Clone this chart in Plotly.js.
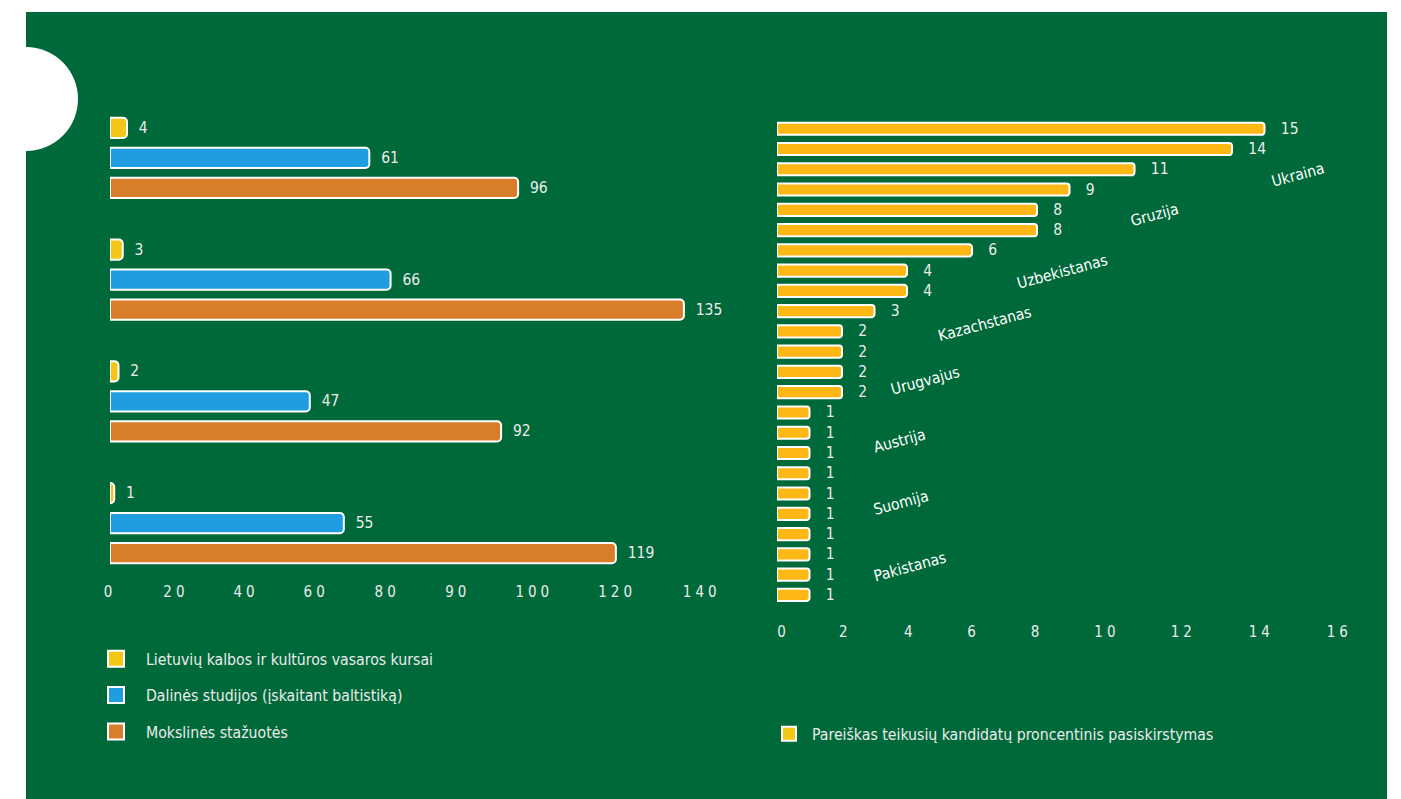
<!DOCTYPE html>
<html><head><meta charset="utf-8">
<script src="https://cdn.plot.ly/plotly-3.0.1.min.js"></script>
<style>
html,body{margin:0;padding:0;background:#fff;}
#chart{width:1401px;height:799px;}
.xtick text, .x2tick text {letter-spacing:4px;}
</style></head><body><div id="chart"></div>
<script>
// ---------- left chart data ----------
const groupIds = ['1', '2', '3', '4'];
const summerCourses = [4, 3, 2, 1];
const partialStudies = [61, 66, 47, 55];
const internships = [96, 135, 92, 119];
const leftSeriesNames = [
  'Lietuvių kalbos ir kultūros vasaros kursai',
  'Dalinės studijos (įskaitant baltistiką)',
  'Mokslinės stažuotės'
];
const leftTickText = ['0', '20', '40', '60', '80', '90', '100', '120', '140'];

// ---------- right chart data ----------
const rowIds = ['1','2','3','4','5','6','7','8','9','10','11','12','13','14','15','16','17','18','19','20','21','22','23','24'];
const shares = [15, 14, 11, 9, 8, 8, 6, 4, 4, 3, 2, 2, 2, 2, 1, 1, 1, 1, 1, 1, 1, 1, 1, 1];
const rightSeriesName = 'Pareiškas teikusių kandidatų proncentinis pasiskirstymas';
const countryNames = ['Ukraina', 'Gruzija', 'Uzbekistanas', 'Kazachstanas', 'Urugvajus', 'Austrija', 'Suomija', 'Pakistanas'];
const rightTickText = ['0', '2', '4', '6', '8', '10', '12', '14', '16'];

// ---------- layout / style config ----------
const W = 1401, H = 799;
const FONT = '"DejaVu Sans Condensed", "DejaVu Sans", sans-serif';
const TXT = '#ececec';
const GREEN = '#00693A';
const leftColors = ['#F3C716', '#1F9DE0', '#D87E2B'];
const rightColor = '#FDB816';
const leftTickPos = [0, 15.5, 32, 48.5, 65.2, 81.8, 99.8, 119.3, 139.2];
const rightTickPos = [0.2, 2.1, 4.1, 6.05, 8.0, 10.15, 12.5, 14.9, 17.3];
const countryLabelPos = [[16.03, 2.28], [11.63, 4.26], [8.77, 7.08], [6.4, 9.65], [4.55, 12.43], [3.78, 15.4], [3.82, 18.47], [4.09, 21.63]];

const px = v => v / W;
const py = v => 1 - v / H;

const leftValues = [summerCourses, partialStudies, internships];
const traces = [];
leftValues.forEach((vals, i) => {
  traces.push({
    type: 'bar', orientation: 'h', y: groupIds, x: vals, name: leftSeriesNames[i],
    xaxis: 'x', yaxis: 'y', showlegend: false,
    marker: {color: leftColors[i], line: {color: '#ffffff', width: 2}, cornerradius: 4},
    text: vals, texttemplate: '\u00a0\u00a0%{x}', textposition: 'outside', constraintext: 'none',
    cliponaxis: false, textfont: {family: FONT, size: 15.5, color: TXT}, hoverinfo: 'x+name'
  });
});
leftSeriesNames.forEach((n, i) => {
  traces.push({
    type: 'scatter', mode: 'markers', x: [null], y: [null], name: n, xaxis: 'x', yaxis: 'y',
    legend: 'legend', legendgroup: 'g' + i, showlegend: true,
    marker: {symbol: 'square', size: 16, color: leftColors[i], line: {color: '#ffffff', width: 2}}
  });
});
traces.push({
  type: 'bar', orientation: 'h', y: rowIds, x: shares, name: rightSeriesName,
  xaxis: 'x2', yaxis: 'y2', showlegend: false, width: 0.6, offsetgroup: 'r',
  marker: {color: rightColor, line: {color: '#ffffff', width: 2}, cornerradius: 3},
  text: shares, texttemplate: '\u00a0\u00a0\u00a0%{x}', textposition: 'outside', constraintext: 'none',
  cliponaxis: false, textfont: {family: FONT, size: 15.5, color: TXT}, hoverinfo: 'x'
});
traces.push({
  type: 'scatter', mode: 'markers', x: [null], y: [null], name: rightSeriesName, xaxis: 'x2', yaxis: 'y2',
  legend: 'legend2', showlegend: true,
  marker: {symbol: 'square', size: 14, color: '#F3C716', line: {color: '#ffffff', width: 2}}
});

const annotations = countryNames.map((c, i) => ({
  xref: 'x2', yref: 'y2', x: countryLabelPos[i][0], y: countryLabelPos[i][1], text: c,
  showarrow: false, textangle: -15, xanchor: 'center', yanchor: 'middle',
  font: {family: FONT, size: 15.5, color: '#ffffff'}
}));

const axisBase = {showgrid: false, zeroline: false, showline: false, ticks: '', fixedrange: true};

const layout = {
  width: W, height: H,
  margin: {l: 0, r: 0, t: 0, b: 0, pad: 0, autoexpand: false},
  paper_bgcolor: '#ffffff', plot_bgcolor: 'rgba(0,0,0,0)',
  font: {family: FONT, color: TXT, size: 15},
  barmode: 'group', bargap: 0.26, bargroupgap: 0.33,
  xaxis: Object.assign({}, axisBase, {
    domain: [px(110), px(740)], range: [0, 148.2], anchor: 'free', position: py(581),
    tickmode: 'array', tickvals: leftTickPos, ticktext: leftTickText,
    tickfont: {family: FONT, size: 15, color: TXT}, ticklabelstandoff: 0
  }),
  yaxis: Object.assign({}, axisBase, {
    domain: [py(584), py(97)], type: 'category', range: [3.5, -0.5], showticklabels: false, anchor: 'x'
  }),
  xaxis2: Object.assign({}, axisBase, {
    domain: [px(777), px(1350)], range: [0, 17.63], anchor: 'y2',
    tickmode: 'array', tickvals: rightTickPos, ticktext: rightTickText,
    tickfont: {family: FONT, size: 15, color: TXT}, ticklabelstandoff: 16
  }),
  yaxis2: Object.assign({}, axisBase, {
    domain: [py(605), py(118.6)], type: 'category', range: [23.5, -0.5], showticklabels: false, anchor: 'x2'
  }),
  legend: {
    x: px(86), y: py(642), xanchor: 'left', yanchor: 'top', bgcolor: 'rgba(0,0,0,0)',
    font: {family: FONT, size: 15.7, color: TXT}, itemwidth: 50, traceorder: 'grouped', tracegroupgap: 13
  },
  legend2: {
    x: px(766), y: py(717), xanchor: 'left', yanchor: 'top', bgcolor: 'rgba(0,0,0,0)',
    font: {family: FONT, size: 15.7, color: TXT}, itemwidth: 36
  },
  shapes: [
    {type: 'rect', xref: 'paper', yref: 'paper', x0: px(26), x1: px(1387), y0: 0, y1: py(12),
     fillcolor: GREEN, line: {width: 0}, layer: 'below'},
    {type: 'circle', xref: 'paper', yref: 'paper', x0: px(-26), x1: px(78), y0: py(151), y1: py(47),
     fillcolor: '#ffffff', line: {width: 0}, layer: 'below'}
  ],
  annotations: annotations,
  showlegend: true
};

Plotly.newPlot('chart', traces, layout, {displayModeBar: false, staticPlot: true});
</script></body></html>
